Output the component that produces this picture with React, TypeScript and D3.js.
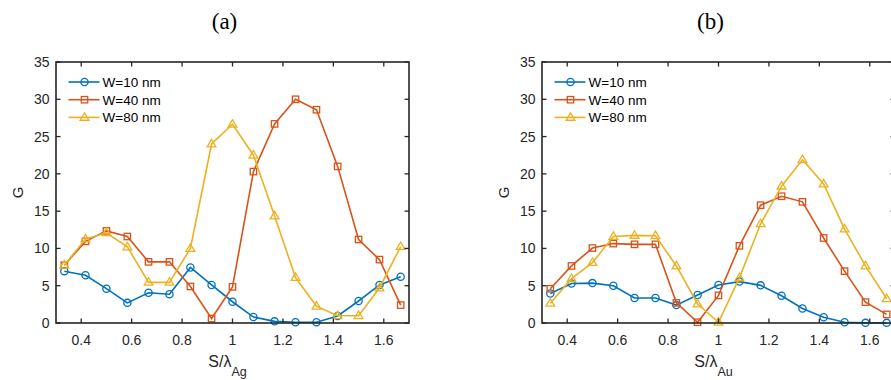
import React from "react";
import * as d3 from "d3";

const xValues = [0.333, 0.417, 0.5, 0.583, 0.667, 0.75, 0.833, 0.917, 1.0, 1.083, 1.167, 1.25, 1.333, 1.417, 1.5, 1.583, 1.667];

const agW10 = [6.95, 6.4, 4.6, 2.7, 4.05, 3.85, 7.45, 5.1, 2.85, 0.8, 0.22, 0.1, 0.1, 0.95, 2.95, 5.1, 6.2];
const agW40 = [7.75, 10.95, 12.35, 11.6, 8.2, 8.2, 4.9, 0.6, 4.85, 20.3, 26.7, 30.0, 28.6, 21.0, 11.2, 8.5, 2.4];
const agW80 = [7.75, 11.25, 12.1, 10.2, 5.45, 5.45, 10.0, 24.0, 26.65, 22.5, 14.35, 6.1, 2.25, 0.98, 0.98, 4.7, 10.25];

const auW10 = [3.95, 5.3, 5.35, 5.0, 3.35, 3.35, 2.4, 3.75, 5.1, 5.55, 5.05, 3.65, 1.95, 0.78, 0.1, 0.02, 0.02];
const auW40 = [4.6, 7.65, 10.05, 10.65, 10.55, 10.55, 2.7, 0.1, 3.7, 10.35, 15.8, 17.0, 16.25, 11.4, 6.95, 2.8, 1.15];
const auW80 = [2.65, 5.95, 8.1, 11.6, 11.75, 11.7, 7.65, 2.55, 0.1, 6.05, 13.3, 18.35, 21.9, 18.65, 12.6, 7.65, 3.25];

const seriesNames = ["W=10 nm", "W=40 nm", "W=80 nm"];
const seriesColors = ["#0072BD", "#D95319", "#EDB120"];
const seriesMarkers = ["circle", "square", "triangle"];

const xTicks = [0.4, 0.6, 0.8, 1, 1.2, 1.4, 1.6];
const yTicks = [0, 5, 10, 15, 20, 25, 30, 35];

const panelTitles = ["(a)", "(b)"];
const panelSubscripts = ["Ag", "Au"];

const W = 891;
const H = 380;
const AX = "#262626";
const FONT = "Arial, 'Liberation Sans', Helvetica, sans-serif";

function Marker({ type, x, y, color }: { type: string; x: number; y: number; color: string }) {
  if (type === "circle") {
    return <circle cx={x} cy={y} r={3.6} fill="none" stroke={color} strokeWidth={1.3} />;
  }
  if (type === "square") {
    const s = 3.2;
    return <rect x={x - s} y={y - s} width={2 * s} height={2 * s} fill="none" stroke={color} strokeWidth={1.3} />;
  }
  const s = 4.6;
  const pts = [
    [x, y - s],
    [x - s * 0.95, y + s * 0.62],
    [x + s * 0.95, y + s * 0.62],
  ];
  return <polygon points={pts.map((p) => p.join(",")).join(" ")} fill="none" stroke={color} strokeWidth={1.3} />;
}

function Panel({ left, series, title, sub }: { left: number; series: number[][]; title: string; sub: string }) {
  const x0 = left;
  const x1 = left + 353;
  const y0 = 323;
  const y1 = 62;
  const x = d3.scaleLinear().domain([0.3, 1.7]).range([x0, x1]);
  const y = d3.scaleLinear().domain([0, 35]).range([y0, y1]);
  const line = d3
    .line<number>()
    .x((_, i) => x(xValues[i]))
    .y((d) => y(d));
  const tl = 4.5;
  const cx = (x0 + x1) / 2;
  return (
    <g>
      <text x={cx - 8} y={29} textAnchor="middle" fontFamily="'Liberation Serif', 'DejaVu Serif', serif" fontSize={23} fill="#000">
        {title}
      </text>
      {series.map((vals, si) => (
        <g key={si}>
          <path d={line(vals) || ""} fill="none" stroke={seriesColors[si]} strokeWidth={1.6} />
          {vals.map((v, i) => (
            <Marker key={i} type={seriesMarkers[si]} x={x(xValues[i])} y={y(v)} color={seriesColors[si]} />
          ))}
        </g>
      ))}
      <rect x={x0} y={y1} width={x1 - x0} height={y0 - y1} fill="none" stroke={AX} strokeWidth={1.6} />
      {xTicks.map((t) => (
        <g key={"x" + t}>
          <line x1={x(t)} x2={x(t)} y1={y0} y2={y0 - tl} stroke={AX} strokeWidth={1.3} />
          <line x1={x(t)} x2={x(t)} y1={y1} y2={y1 + tl} stroke={AX} strokeWidth={1.3} />
          <text x={x(t)} y={y0 + 22} textAnchor="middle" fontFamily={FONT} fontSize={14} fill={AX}>
            {String(t)}
          </text>
        </g>
      ))}
      {yTicks.map((t) => (
        <g key={"y" + t}>
          <line x1={x0} x2={x0 + tl} y1={y(t)} y2={y(t)} stroke={AX} strokeWidth={1.3} />
          <line x1={x1} x2={x1 - tl} y1={y(t)} y2={y(t)} stroke={AX} strokeWidth={1.3} />
          <text x={x0 - 6.5} y={y(t) + 5} textAnchor="end" fontFamily={FONT} fontSize={14} fill={AX}>
            {String(t)}
          </text>
        </g>
      ))}
      <text
        transform={`translate(${x0 - 33},${(y0 + y1) / 2}) rotate(-90)`}
        textAnchor="middle"
        fontFamily={FONT}
        fontSize={15}
        fill={AX}
      >
        G
      </text>
      <text x={cx - 5} y={367} textAnchor="middle" fontFamily={FONT} fontSize={16} fill={AX}>
        S/λ
        <tspan fontSize={12.5} dy={9}>
          {sub}
        </tspan>
      </text>
      {seriesNames.map((n, si) => {
        const ly = 82 + si * 17.7;
        const lx = x0 + 12.5;
        return (
          <g key={n}>
            <line x1={lx} x2={lx + 31} y1={ly} y2={ly} stroke={seriesColors[si]} strokeWidth={1.6} />
            <Marker type={seriesMarkers[si]} x={lx + 16} y={ly} color={seriesColors[si]} />
            <text x={lx + 34} y={ly + 5} fontFamily={FONT} fontSize={13.5} fill="#000">
              {n}
            </text>
          </g>
        );
      })}
    </g>
  );
}

export default function App() {
  return (
    <svg width={W} height={H} style={{ position: "absolute", left: 0, top: 0, background: "#fff" }}>
      <rect x={0} y={0} width={W} height={H} fill="#fff" />
      <Panel left={56} series={[agW10, agW40, agW80]} title={panelTitles[0]} sub={panelSubscripts[0]} />
      <Panel left={542} series={[auW10, auW40, auW80]} title={panelTitles[1]} sub={panelSubscripts[1]} />
    </svg>
  );
}
